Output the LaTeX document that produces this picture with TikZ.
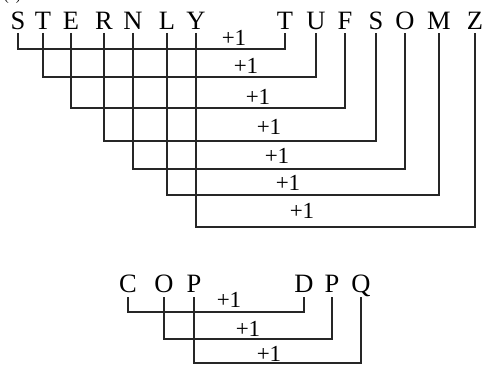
\documentclass[tikz,border=0pt]{standalone}
\usepackage{fontspec}
\setmainfont{Liberation Serif}
\begin{document}
\begin{tikzpicture}[x=1pt,y=-1pt,
  lt/.style={font=\fontsize{26.5}{26.5}\selectfont, inner sep=0pt, anchor=base},
  pl/.style={font=\fontsize{23}{23}\selectfont, inner sep=0pt},
  conn/.style={line width=1.7pt, draw=black!85, line join=miter}]
\useasboundingbox (0,0) rectangle (484,366);
% partially visible caption at the very top
\node[font=\fontsize{14}{14}\selectfont, inner sep=0pt, anchor=base west] (cap) at (4,0.5) {(1)};
% top row
\node[lt] (a1) at (18,30) {S};
\node[lt] (a2) at (43,30) {T};
\node[lt] (a3) at (71,30) {E};
\node[lt] (a4) at (104,30) {R};
\node[lt] (a5) at (133,30) {N};
\node[lt] (a6) at (167,30) {L};
\node[lt] (a7) at (196,30) {Y};
\node[lt] (b1) at (285,30) {T};
\node[lt] (b2) at (316,30) {U};
\node[lt] (b3) at (345,30) {F};
\node[lt] (b4) at (376,30) {S};
\node[lt] (b5) at (405,30) {O};
\node[lt] (b6) at (439,30) {M};
\node[lt] (b7) at (475,30) {Z};
\foreach \l/\r/\y in {a1/b1/49, a2/b2/77, a3/b3/108, a4/b4/141, a5/b5/169, a6/b6/195, a7/b7/227}
  \draw[conn] ([yshift=-3pt]\l.base) -- (\l.base |- 0,\y) -| ([yshift=-3pt]\r.base);
\node[pl] (p1) at (234,38) {+1};
\node[pl] (p2) at (246,66) {+1};
\node[pl] (p3) at (258,97) {+1};
\node[pl] (p4) at (269,127) {+1};
\node[pl] (p5) at (277,156) {+1};
\node[pl] (p6) at (288,183) {+1};
\node[pl] (p7) at (302,211) {+1};
% bottom row
\node[lt] (c1) at (128,292) {C};
\node[lt] (c2) at (164,292) {O};
\node[lt] (c3) at (194,292) {P};
\node[lt] (d1) at (304,292) {D};
\node[lt] (d2) at (332,292) {P};
\node[lt] (d3) at (361,292) {Q};
\foreach \l/\r/\y in {c1/d1/312, c2/d2/339, c3/d3/363}
  \draw[conn] ([yshift=-5pt]\l.base) -- (\l.base |- 0,\y) -| ([yshift=-5pt]\r.base);
\node[pl] (q1) at (229,300) {+1};
\node[pl] (q2) at (248,329) {+1};
\node[pl] (q3) at (269,354) {+1};
\end{tikzpicture}
\end{document}
